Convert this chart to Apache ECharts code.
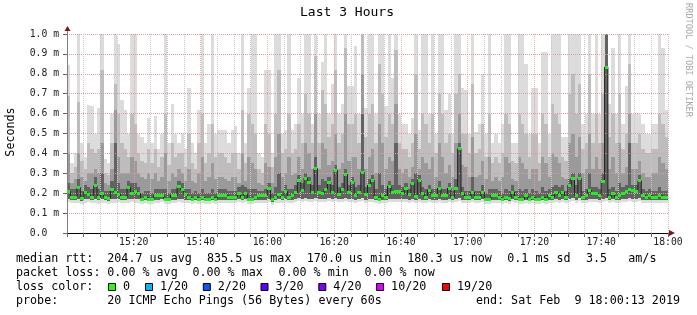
<!DOCTYPE html>
<html><head><meta charset="utf-8">
<script src="https://cdn.jsdelivr.net/npm/echarts@6/dist/echarts.min.js"></script>
<style>html,body{margin:0;padding:0;background:#fff}#c{width:697px;height:315px}</style>
</head><body><div id="c"></div>
<script>
// one column per minute, 15:00 .. 18:00 (values in ms)
const median = [
0.208,0.18,0.18,0.228,0.173,0.206,0.193,0.18,0.238,0.18,0.198,0.18,0.174,0.221,0.206,0.193,0.18,0.18,0.228,0.2,
0.211,0.198,0.17,0.18,0.17,0.17,0.19,0.19,0.19,0.17,0.17,0.19,0.19,0.233,0.218,0.193,0.18,0.17,0.18,0.17,
0.18,0.17,0.17,0.18,0.17,0.19,0.19,0.19,0.18,0.18,0.18,0.198,0.18,0.198,0.17,0.17,0.18,0.19,0.19,0.19,
0.226,0.167,0.18,0.193,0.18,0.208,0.18,0.19,0.203,0.266,0.213,0.276,0.256,0.203,0.325,0.206,0.2,0.221,0.256,0.203,
0.315,0.193,0.221,0.295,0.203,0.256,0.19,0.203,0.305,0.193,0.241,0.266,0.18,0.17,0.19,0.18,0.236,0.203,0.21,0.21,
0.2,0.226,0.193,0.248,0.184,0.266,0.196,0.18,0.216,0.19,0.19,0.226,0.19,0.19,0.226,0.18,0.226,0.424,0.198,0.18,
0.18,0.206,0.18,0.18,0.206,0.17,0.17,0.19,0.19,0.18,0.17,0.18,0.175,0.206,0.18,0.17,0.17,0.186,0.17,0.18,
0.17,0.17,0.18,0.17,0.19,0.18,0.206,0.19,0.206,0.18,0.24,0.276,0.19,0.275,0.18,0.19,0.216,0.2,0.2,0.19,
0.26,0.834,0.18,0.198,0.18,0.19,0.2,0.21,0.22,0.215,0.211,0.263,0.19,0.18,0.19,0.18,0.18,0.19,0.18,0.18];
const smokeMax = [
0.845,0.35,0.4,1.0,0.45,0.38,0.645,0.64,0.5,0.63,1.0,0.37,0.35,0.6,1.0,0.95,0.67,0.62,0.5,1.0,
1.0,0.5,0.48,0.45,0.58,0.45,0.59,0.42,0.5,1.0,0.45,0.65,0.5,0.45,0.5,0.42,0.73,0.45,0.4,0.62,
1.0,0.45,0.55,1.0,0.5,0.52,0.52,0.52,0.45,0.52,0.54,0.4,1.0,0.45,0.73,1.0,1.0,0.4,0.38,0.82,
0.82,0.4,1.0,1.0,0.5,0.52,1.0,0.52,0.55,0.78,0.6,1.0,1.0,0.55,1.0,0.6,0.86,1.0,0.6,0.75,
1.0,0.6,0.65,1.0,0.74,0.74,0.94,0.6,1.0,0.63,1.0,1.0,0.6,1.0,1.0,0.64,1.0,0.78,1.0,0.6,
0.55,0.55,0.5,0.58,1.0,0.52,1.0,1.0,0.6,1.0,0.5,1.0,1.0,0.62,0.7,0.5,1.0,1.0,0.73,0.72,
0.5,1.0,0.51,0.55,0.8,0.5,1.0,0.45,0.5,0.45,0.55,1.0,1.0,0.45,0.45,1.0,1.0,0.85,0.5,0.73,
0.73,0.45,0.91,0.91,0.5,1.0,1.0,1.0,0.48,0.48,1.0,1.0,1.0,1.0,0.55,0.6,1.0,0.6,1.0,0.6,
1.0,1.0,0.65,0.93,0.6,1.0,0.55,0.74,1.0,0.6,0.6,0.6,0.55,0.5,0.5,0.55,0.55,1.0,0.93,0.62];
const smokeHigh = [
0.69,0.3,0.33,0.66,0.36,0.32,0.45,0.42,0.4,0.42,0.82,0.3,0.29,0.45,0.75,0.6,0.45,0.42,0.38,0.6,
0.55,0.4,0.36,0.35,0.42,0.35,0.42,0.33,0.38,0.6,0.34,0.45,0.38,0.4,0.4,0.33,0.5,0.35,0.32,0.45,
0.6,0.35,0.4,0.55,0.38,0.4,0.4,0.38,0.35,0.4,0.4,0.32,0.62,0.35,0.6,0.55,0.5,0.32,0.3,0.55,
0.5,0.33,0.6,0.82,0.4,0.42,0.6,0.4,0.42,0.55,0.45,0.7,0.6,0.45,0.89,0.45,0.72,0.65,0.48,0.55,
0.82,0.45,0.5,0.93,0.55,0.55,0.6,0.45,1.0,0.48,0.6,0.65,0.45,0.85,0.7,0.48,0.6,0.55,0.92,0.45,
0.42,0.42,0.38,0.45,0.8,0.42,0.6,0.55,0.45,0.6,0.4,0.7,0.6,0.45,0.5,0.4,0.7,0.8,0.5,0.5,
0.4,0.75,0.4,0.42,0.55,0.38,0.6,0.35,0.38,0.35,0.4,0.6,0.55,0.36,0.35,0.6,0.55,0.5,0.38,0.5,
0.5,0.35,0.6,0.55,0.38,0.65,0.6,0.55,0.38,0.36,0.7,0.8,0.6,0.75,0.42,0.45,0.8,0.45,0.6,0.45,
0.7,1.0,0.48,0.6,0.45,0.7,0.42,0.5,0.85,0.45,0.45,0.5,0.42,0.4,0.4,0.42,0.42,0.6,0.55,0.48];
const smokeMid = [
0.4,0.25,0.27,0.4,0.28,0.26,0.3,0.3,0.32,0.3,0.45,0.25,0.24,0.32,0.62,0.38,0.3,0.3,0.3,0.38,
0.36,0.3,0.28,0.27,0.3,0.27,0.3,0.26,0.28,0.4,0.26,0.3,0.28,0.32,0.3,0.26,0.32,0.26,0.25,0.3,
0.38,0.26,0.28,0.35,0.27,0.28,0.28,0.27,0.26,0.28,0.28,0.25,0.4,0.26,0.38,0.35,0.32,0.25,0.24,0.35,
0.33,0.25,0.38,0.5,0.28,0.3,0.38,0.29,0.3,0.38,0.32,0.45,0.4,0.32,0.6,0.32,0.45,0.42,0.34,0.36,
0.5,0.32,0.35,0.6,0.36,0.38,0.38,0.32,0.8,0.32,0.38,0.42,0.3,0.55,0.45,0.32,0.38,0.36,0.65,0.32,
0.3,0.32,0.28,0.33,0.5,0.32,0.38,0.35,0.32,0.38,0.28,0.45,0.38,0.3,0.34,0.28,0.45,0.6,0.34,0.33,
0.28,0.48,0.28,0.29,0.36,0.27,0.38,0.26,0.28,0.26,0.28,0.38,0.35,0.27,0.26,0.38,0.35,0.32,0.27,0.32,
0.32,0.26,0.38,0.35,0.28,0.4,0.38,0.35,0.28,0.27,0.45,0.5,0.38,0.48,0.3,0.32,0.5,0.32,0.38,0.32,
0.45,1.0,0.32,0.38,0.3,0.45,0.3,0.33,0.6,0.32,0.32,0.36,0.3,0.28,0.28,0.3,0.3,0.38,0.35,0.32];
const smokeCore = [
0.25,0.22,0.22,0.27,0.21,0.24,0.23,0.22,0.28,0.22,0.3,0.21,0.21,0.26,0.45,0.25,0.22,0.22,0.26,0.25,
0.25,0.23,0.2,0.21,0.21,0.2,0.22,0.22,0.22,0.22,0.2,0.22,0.22,0.26,0.25,0.22,0.22,0.2,0.21,0.2,
0.22,0.2,0.2,0.22,0.2,0.22,0.22,0.22,0.21,0.21,0.21,0.23,0.24,0.23,0.22,0.22,0.22,0.21,0.21,0.22,
0.25,0.2,0.23,0.3,0.21,0.24,0.22,0.22,0.24,0.29,0.25,0.3,0.28,0.24,0.38,0.24,0.27,0.26,0.28,0.24,
0.34,0.23,0.25,0.32,0.24,0.28,0.23,0.24,0.6,0.23,0.27,0.29,0.22,0.3,0.24,0.22,0.26,0.24,0.45,0.24,
0.23,0.25,0.22,0.27,0.3,0.29,0.23,0.22,0.24,0.22,0.22,0.26,0.22,0.22,0.25,0.21,0.27,0.45,0.23,0.21,
0.21,0.28,0.21,0.21,0.24,0.2,0.22,0.22,0.22,0.21,0.2,0.22,0.21,0.24,0.21,0.22,0.21,0.22,0.2,0.22,
0.21,0.2,0.23,0.21,0.22,0.23,0.24,0.23,0.24,0.21,0.27,0.3,0.24,0.3,0.21,0.22,0.3,0.23,0.23,0.22,
0.3,1.0,0.22,0.23,0.21,0.25,0.23,0.24,0.45,0.24,0.24,0.29,0.22,0.21,0.22,0.21,0.21,0.23,0.21,0.21];
const smokeMin = [
0.155,0.15,0.15,0.15,0.145,0.15,0.155,0.15,0.15,0.145,0.15,0.15,0.145,0.15,0.15,0.155,0.15,0.15,0.15,0.155,
0.15,0.15,0.145,0.15,0.145,0.145,0.15,0.15,0.155,0.145,0.145,0.15,0.15,0.155,0.15,0.15,0.15,0.145,0.15,0.145,
0.15,0.145,0.145,0.15,0.145,0.15,0.15,0.15,0.15,0.15,0.15,0.155,0.15,0.155,0.145,0.145,0.15,0.15,0.15,0.15,
0.155,0.14,0.15,0.15,0.15,0.155,0.15,0.15,0.155,0.16,0.155,0.16,0.155,0.155,0.16,0.155,0.155,0.155,0.16,0.155,
0.16,0.155,0.155,0.16,0.155,0.155,0.15,0.155,0.16,0.15,0.155,0.155,0.15,0.145,0.15,0.15,0.155,0.155,0.155,0.155,
0.155,0.155,0.15,0.155,0.15,0.155,0.15,0.15,0.155,0.15,0.15,0.155,0.15,0.15,0.155,0.15,0.155,0.16,0.15,0.15,
0.15,0.155,0.15,0.15,0.155,0.145,0.145,0.15,0.15,0.15,0.145,0.15,0.145,0.155,0.15,0.145,0.145,0.15,0.145,0.15,
0.145,0.145,0.15,0.145,0.15,0.15,0.155,0.15,0.155,0.15,0.155,0.16,0.15,0.16,0.15,0.15,0.155,0.155,0.155,0.15,
0.155,0.16,0.15,0.155,0.15,0.15,0.155,0.155,0.16,0.155,0.155,0.16,0.15,0.15,0.15,0.15,0.15,0.15,0.15,0.15];
const smokeLow = [
0.17,0.165,0.165,0.17,0.16,0.17,0.17,0.165,0.17,0.165,0.17,0.165,0.16,0.17,0.17,0.17,0.165,0.165,0.17,0.17,
0.17,0.17,0.16,0.165,0.16,0.16,0.165,0.165,0.17,0.16,0.16,0.165,0.165,0.17,0.17,0.165,0.165,0.16,0.165,0.16,
0.165,0.16,0.16,0.165,0.16,0.165,0.165,0.165,0.165,0.165,0.165,0.17,0.165,0.17,0.16,0.16,0.165,0.165,0.165,0.165,
0.17,0.155,0.165,0.17,0.165,0.17,0.165,0.165,0.17,0.175,0.17,0.175,0.17,0.17,0.175,0.17,0.17,0.17,0.175,0.17,
0.175,0.17,0.17,0.175,0.17,0.17,0.165,0.17,0.175,0.165,0.17,0.17,0.165,0.16,0.165,0.165,0.17,0.17,0.17,0.17,
0.17,0.17,0.165,0.17,0.165,0.17,0.165,0.165,0.17,0.165,0.165,0.17,0.165,0.165,0.17,0.165,0.17,0.175,0.165,0.165,
0.165,0.17,0.165,0.165,0.17,0.16,0.16,0.165,0.165,0.165,0.16,0.165,0.16,0.17,0.165,0.16,0.16,0.165,0.16,0.165,
0.16,0.16,0.165,0.16,0.165,0.165,0.17,0.165,0.17,0.165,0.17,0.175,0.165,0.175,0.165,0.165,0.17,0.17,0.17,0.165,
0.17,0.175,0.165,0.17,0.165,0.165,0.17,0.17,0.175,0.17,0.17,0.175,0.165,0.165,0.165,0.165,0.165,0.165,0.165,0.165];
const xTickLabels = ['15:00','15:20','15:40','16:00','16:20','16:40','17:00','17:20','17:40','18:00'];
const yTickLabels = ['0.0  ','0.1 m','0.2 m','0.3 m','0.4 m','0.5 m','0.6 m','0.7 m','0.8 m','0.9 m','1.0 m'];
const titleText = 'Last 3 Hours';
const yName = 'Seconds';
const sideText = 'RRDTOOL / TOBI OETIKER';
const rttLabel = 'median rtt:';
const rttItems = ['204.7 us avg','835.5 us max','170.0 us min','180.3 us now','0.1 ms sd','3.5','am/s'];
const lossLabel = 'packet loss:';
const lossItems = ['0.00 % avg','0.00 % max','0.00 % min','0.00 % now'];
const colorLabel = 'loss color:';
const lossColorNames = ['0','1/20','2/20','3/20','4/20','10/20','19/20'];
const lossColors = ['#26ff00','#00b8ff','#0059ff','#5e00ff','#7e00ff','#dd00ff','#ff0000'];
const probeLabel = 'probe:';
const probeText = '20 ICMP Echo Pings (56 Bytes) every 60s';
const endText = 'end: Sat Feb  9 18:00:13 2019';

const MONO = '"DejaVu Sans Mono", monospace';
const chart = echarts.init(document.getElementById('c'), null, {renderer:'canvas'});

function band(lows, highs, color) {
  return {
    type:'custom', silent:true, clip:true, z:2,
    renderItem(params, api) {
      const i = api.value(0), lo = api.value(1), hi = api.value(2);
      const a = api.coord([i, hi]), b = api.coord([i + 1, lo]);
      const x0 = Math.round(a[0]), x1 = Math.round(b[0]);
      const y0 = Math.round(a[1]), y1 = Math.round(b[1]);
      return {type:'rect', shape:{x:x0, y:y0, width:x1 - x0, height:y1 - y0}, style:{fill:color}};
    },
    encode:{x:0, y:[1,2]},
    data: highs.map((h, i) => [i, lows[i], h])
  };
}

const stepData = median.map((m, i) => [i, m]);
stepData.push([median.length, median[median.length - 1]]);

const graphics = [];
function txt(x, y, s, opt) {
  graphics.push(Object.assign({type:'text', x:x, y:y, silent:true,
    style:Object.assign({text:s, fill:'#000', font:'11.7px ' + MONO, align:'left', verticalAlign:'middle'}, (opt && opt.style) || {})},
    opt && opt.rotation !== undefined ? {rotation:opt.rotation} : {}));
}
txt(347, 13, titleText, {style:{font:'13px ' + MONO, align:'center'}});
txt(11, 132, yName, {rotation:Math.PI / 2, style:{align:'center'}});
txt(688, 60, sideText, {rotation:-Math.PI / 2, style:{align:'center', font:'8.6px ' + MONO, fill:'#aaaaaa'}});
const rttX = [107.3, 207, 306.8, 407.3, 507.3, 586, 628.3];
txt(16, 259, rttLabel);
rttItems.forEach((s, k) => txt(rttX[k], 259, s));
const lossX = [107.3, 192.4, 278.4, 364.4];
txt(16, 273.3, lossLabel);
lossItems.forEach((s, k) => txt(lossX[k], 273.3, s));
txt(16, 287, colorLabel);
const boxX = [108.5, 145.5, 203.3, 261, 318.8, 376.6, 442.5];
lossColorNames.forEach((s, k) => {
  graphics.push({type:'rect', silent:true, shape:{x:boxX[k], y:283.5, width:7, height:7},
    style:{fill:lossColors[k], stroke:'#000', lineWidth:1}});
  txt(boxX[k] + 14.5, 287, s);
});
txt(16, 301, probeLabel);
txt(107.3, 301, probeText);
txt(680, 301, endText, {style:{align:'right'}});
// axis arrows
graphics.push({type:'line', silent:true, shape:{x1:67.5, y1:30, x2:67.5, y2:34}, style:{stroke:'#808080', lineWidth:1}});
graphics.push({type:'polygon', silent:true, shape:{points:[[64.5,31],[70.5,31],[67.5,26]]}, style:{fill:'#8b1010'}});
graphics.push({type:'polygon', silent:true, shape:{points:[[669,230],[669,236],[675,233]]}, style:{fill:'#8b1010'}});

const option = {
  animation:false,
  backgroundColor:'#ffffff',
  grid:{left:67, right:29, top:34, bottom:82, containLabel:false},
  xAxis:{
    type:'value', min:0, max:180, interval:20, z:5,
    axisLine:{show:true, onZero:false, lineStyle:{color:'#000', width:1}},
    axisTick:{show:true, length:4, lineStyle:{color:'#666'}},
    minorTick:{show:true, splitNumber:4, length:4, lineStyle:{color:'#666'}},
    axisLabel:{margin:4, fontFamily:MONO, fontSize:9.75, color:'#222', showMinLabel:true, showMaxLabel:true,
      formatter:(v) => v === 0 ? '' : xTickLabels[Math.round(v / 20)]},
    splitLine:{show:true, lineStyle:{color:'#e2a4a4', width:1, type:[1,1], opacity:0.85}},
    minorSplitLine:{show:true, lineStyle:{color:'#c8c8c8', width:1, type:[1,1]}}
  },
  yAxis:{
    type:'value', min:0, max:1.0, interval:0.1, z:5,
    axisLine:{show:true, lineStyle:{color:'#808080', width:1}},
    axisTick:{show:true, length:4, lineStyle:{color:'#666'}},
    axisLabel:{margin:8, fontFamily:MONO, fontSize:9.75, color:'#222',
      formatter:(v) => yTickLabels[Math.round(v * 10)]},
    splitLine:{show:true, lineStyle:{color:'#e09c9c', width:1, type:[1,1]}}
  },
  series:[
    band(smokeMin, smokeMax, '#dcdcdc'),
    band(smokeLow, smokeHigh, '#bdbdbd'),
    band(smokeLow, smokeMid, '#9a9a9a'),
    band(smokeLow, smokeCore, '#626262'),
    {type:'line', data:stepData, step:'end', symbol:'none', silent:true, z:8,
      lineStyle:{color:'#202020', width:1}},
    {type:'custom', silent:true, clip:true, z:10,
      renderItem(params, api) {
        const i = api.value(0), m = api.value(1);
        const a = api.coord([i, m]), b = api.coord([i + 1, m]);
        const x0 = Math.round(a[0]), x1 = Math.round(b[0]);
        return {type:'rect', shape:{x:x0, y:Math.round(a[1] - 1.5), width:x1 - x0, height:3}, style:{fill:'#20f020'}};
      },
      encode:{x:0, y:1},
      data: median.map((m, i) => [i, m])}
  ],
  graphic:graphics
};
chart.setOption(option);
</script>
</body></html>
